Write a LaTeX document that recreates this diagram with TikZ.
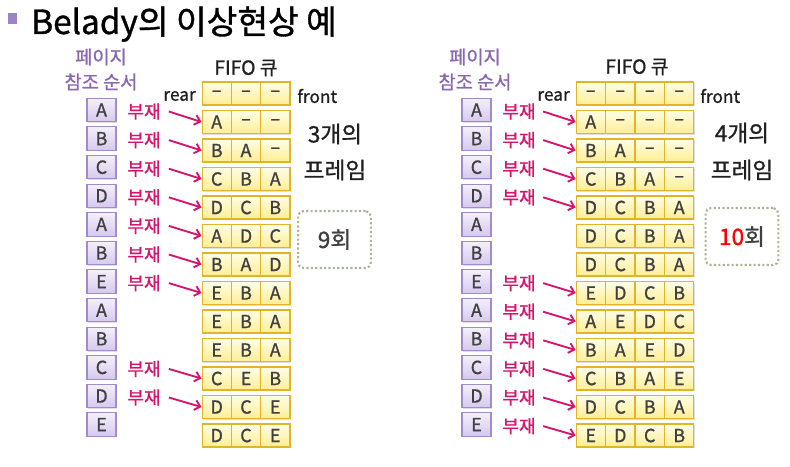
\documentclass[tikz,border=0pt]{standalone}
\usepackage{fontspec}
\setmainfont{Noto Sans CJK KR}[FakeBold=1]
\usetikzlibrary{shadows,arrows.meta}
\definecolor{ink}{HTML}{404040}
\definecolor{dark}{HTML}{202020}
\definecolor{mag}{HTML}{D4146E}
\definecolor{pur}{HTML}{8A68B0}
\definecolor{bullet}{HTML}{9B85C4}
\definecolor{cellbd}{HTML}{E2B42A}
\definecolor{celltop}{HTML}{FFFDE6}
\definecolor{cellbot}{HTML}{FFEE94}
\definecolor{pagebd}{HTML}{A08CC8}
\definecolor{pagetop}{HTML}{F4F0FB}
\definecolor{pagebot}{HTML}{D6C8EE}
\definecolor{dotc}{HTML}{A8B494}
\begin{document}
\begin{tikzpicture}[x=0.75pt,y=-0.75pt,
  cell/.style={draw=cellbd, line width=0.8pt, top color=celltop, bottom color=cellbot,
    minimum width=22pt, minimum height=17.25pt, inner sep=0pt,
    font=\fontsize{13.5}{15}\selectfont, text=ink,
    drop shadow={shadow xshift=0.8pt, shadow yshift=-0.8pt, opacity=0.25}},
  pagebox/.style={draw=pagebd, line width=0.8pt, top color=pagetop, bottom color=pagebot,
    minimum width=21.75pt, minimum height=17.6pt, inner sep=0pt,
    font=\fontsize{13.5}{15}\selectfont, text=ink,
    drop shadow={shadow xshift=0.8pt, shadow yshift=-0.8pt, opacity=0.25}},
  miss/.style={text=mag, font=\fontsize{13.5}{15}\selectfont, inner sep=0pt},
  missarrow/.style={draw=mag, line width=1.4pt, -{Straight Barb[length=4pt,width=7.5pt]}},
  headtxt/.style={text=pur, font=\fontsize{14}{16}\selectfont, inner sep=0pt},
  lbl/.style={text=dark, font=\fontsize{13}{15}\selectfont, inner sep=0pt},
  bigtxt/.style={text=dark, font=\fontsize{17}{20}\selectfont, inner sep=0pt},
  dotbox/.style={draw=dotc, line width=1.6pt, dash pattern=on 1.6pt off 1.7pt,
    rounded corners=4pt, minimum width=54.5pt, minimum height=42.75pt,
    text=ink, font=\fontsize{17}{20}\selectfont}
]
\useasboundingbox (0,0) rectangle (790,467);
\fill[white] (0,0) rectangle (790,467);

% title
\fill[bullet] (8,13) rectangle (17,24);
\node[anchor=base west, inner sep=0pt, text=black, font=\fontsize{25}{29}\selectfont] (title) at (31,34) {Belady의 이상현상 예};

% headers
\node[headtxt] (lh1) at (101,57) {페이지};
\node[headtxt] (lh2) at (101,82) {참조 순서};
\node[headtxt] (rh1) at (475,57) {페이지};
\node[headtxt] (rh2) at (475,82) {참조 순서};
\node[lbl, font=\fontsize{14.5}{16}\selectfont] (lfifo) at (246,68) {FIFO 큐};
\node[lbl, font=\fontsize{14.5}{16}\selectfont] (rfifo) at (637,67) {FIFO 큐};
\node[lbl, anchor=east] (lrear) at (196,96) {rear};
\node[lbl, anchor=west] (lfront) at (297,96) {front};
\node[lbl, anchor=east] (rrear) at (570,96) {rear};
\node[lbl, anchor=west] (rfront) at (700,96) {front};

% page reference boxes
\foreach \p [count=\i from 0] in {A,B,C,D,A,B,E,A,B,C,D,E} {
  \node[pagebox] (LP\i) at (101.5,{110+28.6*\i}) {\p};
  \node[pagebox] (RP\i) at (476.5,{110+28.6*\i}) {\p};
}

% left FIFO (3 frames)
\foreach \a/\b/\c [count=\r from 0] in {--/--/--, A/--/--, B/A/--, C/B/A, D/C/B, A/D/C, B/A/D, E/B/A, E/B/A, E/B/A, C/E/B, D/C/E, D/C/E} {
  \node[cell] (L\r-1) at (216.7,{93.5+28.5*\r}) {\a};
  \node[cell] (L\r-2) at (246.0,{93.5+28.5*\r}) {\b};
  \node[cell] (L\r-3) at (275.3,{93.5+28.5*\r}) {\c};
}

% right FIFO (4 frames)
\foreach \a/\b/\c/\d [count=\r from 0] in {--/--/--/--, A/--/--/--, B/A/--/--, C/B/A/--, D/C/B/A, D/C/B/A, D/C/B/A, E/D/C/B, A/E/D/C, B/A/E/D, C/B/A/E, D/C/B/A, E/D/C/B} {
  \node[cell] (R\r-1) at (590.75,{93.5+28.5*\r}) {\a};
  \node[cell] (R\r-2) at (620.25,{93.5+28.5*\r}) {\b};
  \node[cell] (R\r-3) at (649.75,{93.5+28.5*\r}) {\c};
  \node[cell] (R\r-4) at (679.25,{93.5+28.5*\r}) {\d};
}

% page faults, left
\foreach \i in {0,1,2,3,4,5,6,9,10} {
  \pgfmathtruncatemacro{\r}{\i+1}
  \node[miss] (ML\i) at (144,{111.5+28.6*\i}) {부재};
  \draw[missarrow] ([xshift=6pt]ML\i.east) -- (L\r-1.west);
}
% page faults, right
\foreach \i in {0,1,2,3,6,7,8,9,10,11} {
  \pgfmathtruncatemacro{\r}{\i+1}
  \node[miss] (MR\i) at (519,{111.5+28.6*\i}) {부재};
  \draw[missarrow] ([xshift=5.5pt]MR\i.east) -- (R\r-1.west);
}

% frame counts
\node[bigtxt] (l3) at (335,134) {3개의};
\node[bigtxt] (lfr) at (335,170) {프레임};
\node[bigtxt] (r4) at (742,133) {4개의};
\node[bigtxt] (rfr) at (742,170) {프레임};

% fault totals
\node[dotbox] (ltot) at (334.5,239.5) {9회};
\node[dotbox] (rtot) at (742,236.5) {\textcolor{red}{10}회};
\end{tikzpicture}
\end{document}
